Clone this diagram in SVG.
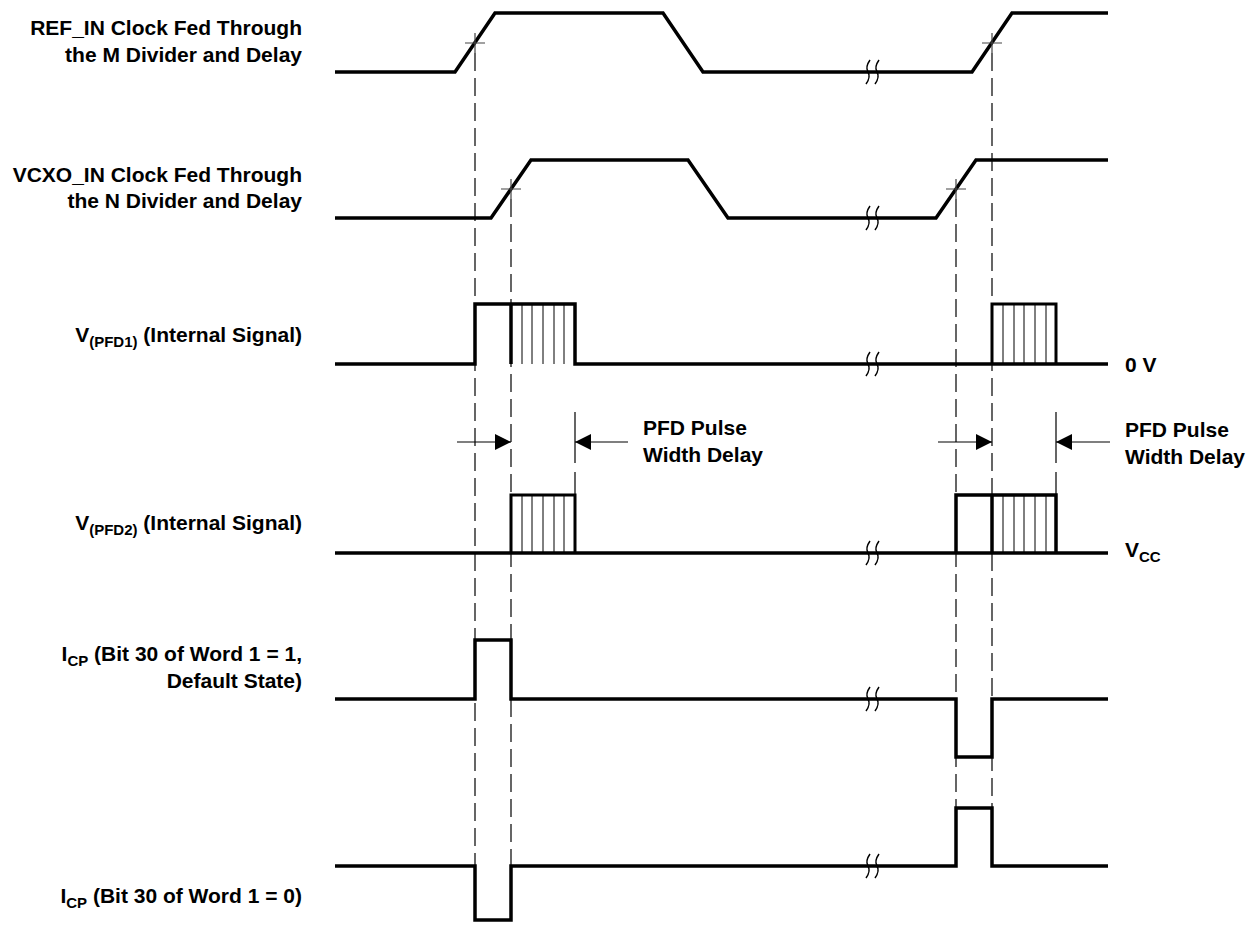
<svg xmlns="http://www.w3.org/2000/svg" width="1255" height="925" viewBox="0 0 1255 925">
<defs>
<style>
.sig{fill:none;stroke:#000;stroke-width:3.5;stroke-linejoin:miter;stroke-linecap:butt}
.edge{fill:none;stroke:#000;stroke-width:3}
.hatch{fill:none;stroke:#000;stroke-width:1}
.dash{fill:none;stroke:#000;stroke-width:1.2;stroke-dasharray:18 7}
.cross{fill:none;stroke:#444;stroke-width:1.2}
.brk{fill:none;stroke:#000;stroke-width:1.5}
.arr{fill:none;stroke:#000;stroke-width:1.2}
.lbl{font-family:"Liberation Sans",Arial,Helvetica,sans-serif;font-weight:bold;font-size:21px;fill:#000}
.sub{font-size:15px}
</style>
<marker id="ah" viewBox="0 0 16 16" refX="16" refY="8" markerWidth="16" markerHeight="16" markerUnits="userSpaceOnUse" orient="auto">
<path d="M0,0 L16,8 L0,16 z" fill="#000"/>
</marker>
<g id="brkSym">
<path class="brk" d="M-2,-12 Q-7,-5 -4,0 Q-1,5 -6,12"/>
<path class="brk" d="M7,-12 Q2,-5 5,0 Q8,5 3,12"/>
</g>
</defs>
<rect width="1255" height="925" fill="#fff"/>

<g id="connectors">
<path class="dash" d="M475,53 V866"/>
<path class="dash" d="M511,199 V866"/>
<path class="dash" d="M956,199 V808"/>
<path class="dash" d="M992,53 V808"/>
<path class="arr" d="M457,442 H511" marker-end="url(#ah)"/>
<path class="arr" d="M628,442 H575" marker-end="url(#ah)"/>
<path class="arr" d="M575,412 V463 M575,472 V495"/>
<path class="arr" d="M938,442 H992" marker-end="url(#ah)"/>
<path class="arr" d="M1110,442 H1056" marker-end="url(#ah)"/>
<path class="arr" d="M1056,412 V463 M1056,472 V495"/>
</g>

<g id="ref-in">
<path class="sig" d="M335,72 H455 L495,13 H663 L703,72 H972 L1012,13 H1108"/>
<path class="cross" d="M465,43 H485 M475,33 V53 M982,43 H1002 M992,33 V53"/>
<use href="#brkSym" x="872" y="72"/>
<text class="lbl" x="302" y="35" text-anchor="end">REF_IN Clock Fed Through</text>
<text class="lbl" x="302" y="62" text-anchor="end">the M Divider and Delay</text>
</g>

<g id="vcxo-in">
<path class="sig" d="M335,218 H491 L531,160 H688 L728,218 H936 L976,160 H1108"/>
<path class="cross" d="M501,189 H521 M511,179 V199 M946,189 H966 M956,179 V199"/>
<use href="#brkSym" x="872" y="218"/>
<text class="lbl" x="302" y="182" text-anchor="end">VCXO_IN Clock Fed Through</text>
<text class="lbl" x="302" y="208" text-anchor="end">the N Divider and Delay</text>
</g>

<g id="vpfd1">
<path class="hatch" d="M522,304 V364 M532,304 V364 M543,304 V364 M554,304 V364 M564,304 V364 M1003,304 V364 M1014,304 V364 M1024,304 V364 M1035,304 V364 M1046,304 V364"/>
<path class="sig" d="M335,364 H475 V304 H575 V364 H1108"/>
<path class="sig" d="M511,304 V364"/>
<path class="edge" d="M992,364 V304 H1056 V364"/>
<use href="#brkSym" x="872" y="364"/>
<text class="lbl" x="302" y="342" text-anchor="end">V<tspan class="sub" dy="5">(PFD1)</tspan><tspan dy="-5"> (Internal Signal)</tspan></text>
<text class="lbl" x="1125" y="372">0 V</text>
</g>

<g id="vpfd2">
<path class="hatch" d="M522,495 V553 M532,495 V553 M543,495 V553 M554,495 V553 M564,495 V553 M1003,495 V553 M1014,495 V553 M1024,495 V553 M1035,495 V553 M1046,495 V553"/>
<path class="sig" d="M335,553 H1108"/>
<path class="edge" d="M511,553 V495 H575 V553"/>
<path class="sig" d="M956,553 V495 H1056 V553"/>
<path class="sig" d="M992,495 V553"/>
<use href="#brkSym" x="872" y="553"/>
<text class="lbl" x="302" y="530" text-anchor="end">V<tspan class="sub" dy="5">(PFD2)</tspan><tspan dy="-5"> (Internal Signal)</tspan></text>
<text class="lbl" x="1125" y="557">V<tspan class="sub" dy="5">CC</tspan></text>
</g>

<g id="pfd-delay-labels">
<text class="lbl" x="643" y="435">PFD Pulse</text>
<text class="lbl" x="643" y="462">Width Delay</text>
<text class="lbl" x="1125" y="437">PFD Pulse</text>
<text class="lbl" x="1125" y="464">Width Delay</text>
</g>

<g id="icp-default">
<path class="sig" d="M335,699 H475 V640 H511 V699 H956 V757 H992 V699 H1108"/>
<use href="#brkSym" x="872" y="699"/>
<text class="lbl" x="302" y="661" text-anchor="end">I<tspan class="sub" dy="5">CP</tspan><tspan dy="-5"> (Bit 30 of Word 1 = 1,</tspan></text>
<text class="lbl" x="302" y="688" text-anchor="end">Default State)</text>
</g>

<g id="icp-zero">
<path class="sig" d="M335,866 H475 V920 H511 V866 H956 V808 H992 V866 H1108"/>
<use href="#brkSym" x="872" y="866"/>
<text class="lbl" x="302" y="903" text-anchor="end">I<tspan class="sub" dy="5">CP</tspan><tspan dy="-5"> (Bit 30 of Word 1 = 0)</tspan></text>
</g>
</svg>
